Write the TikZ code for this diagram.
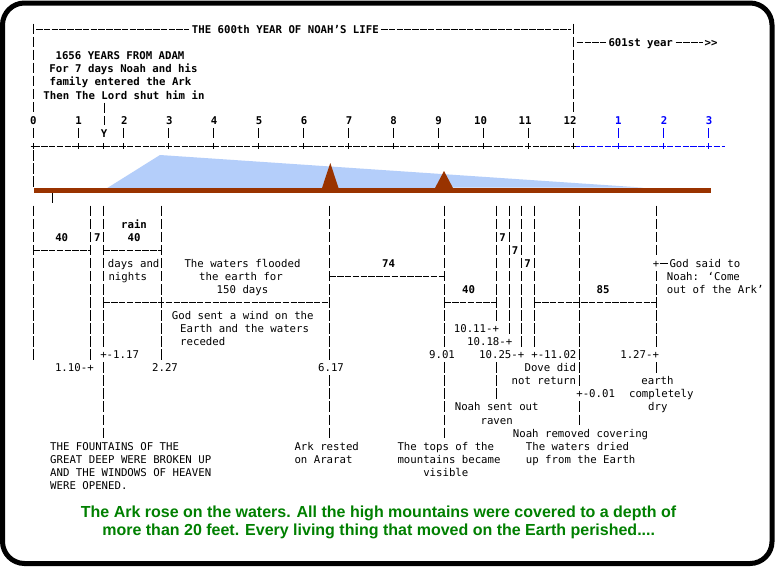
\documentclass[tikz,border=0pt]{standalone}
\usepackage{fontspec}
\newfontfamily\monof{DejaVu Sans Mono}
\newfontfamily\capf{Liberation Sans}
\definecolor{earthbrown}{HTML}{993300}
\definecolor{waterblue}{RGB}{180,206,250}
\definecolor{capgreen}{HTML}{008000}
\definecolor{numblue}{HTML}{0000FF}
\tikzset{
  txt/.style={font=\monof\fontsize{10.7}{13}\selectfont, inner sep=0pt, anchor=base},
  txtb/.style={txt, font=\monof\bfseries\fontsize{10.7}{13}\selectfont},
  vdash/.style={line width=1pt, dash pattern=on 10.5pt off 2.55pt},
  hdash/.style={line width=1pt, dash pattern=on 6.5pt off 1.3pt},
  solidln/.style={line width=1pt},
  captxt/.style={font=\capf\bfseries\fontsize{16}{19}\selectfont, text=capgreen, inner sep=0pt, anchor=base},
}
\newcommand\VS[3]{\draw[vdash] (#1,{205.7+13.05*(#2)}) -- (#1,{216.7+13.05*(#3)});}
\newcommand\HS[3]{\draw[hdash] (#1,{211.2+13.05*(#3)}) -- (#2,{211.2+13.05*(#3)});}
\begin{document}
\begin{tikzpicture}[x=1pt,y=-1pt]
\useasboundingbox (0,0) rectangle (775,568);
\fill[white] (0,0) rectangle (775,568);
% border
\draw[line width=5pt, rounded corners=22pt] (2.5,3) rectangle (772,563.5);

% ---- top ----
\draw[hdash] (36,29.3) -- (189,29.3);
\node[txtb, anchor=base west] (title) at (191.7,33.3) {THE 600th YEAR OF NOAH’S LIFE};
\draw[hdash] (381,29.3) -- (571,29.3);
\draw[vdash] (33.3,23.5) -- (33.3,113);
\draw[vdash] (573.3,23.5) -- (573.3,113);

\draw[hdash] (576.7,42.7) -- (606,42.7);
\node[txtb, anchor=base west] (y601) at (608.3,46.7) {601st year};
\draw[hdash] (675.5,42.7) -- (703,42.7);
\node[txtb, anchor=base west] (arr) at (704.5,46.7) {>>};

\node[txtb] (l1) at (120,59.3) {1656 YEARS FROM ADAM};
\node[txtb] (l2) at (123.5,72.6) {For 7 days Noah and his};
\node[txtb] (l3) at (120.5,85.9) {family entered the Ark};
\node[txtb] (l4) at (124,99.2) {Then The Lord shut him in};

\draw[vdash] (104,102.7) -- (104,125);
\node[txtb] (ylab) at (104,137.3) {Y};

\foreach \xx/\lab [count=\i] in {33.3/0,78.7/1,124.3/2,169.3/3,214/4,259/5,304/6,349/7,393.7/8,438.7/9,480.5/10,525/11,570/12}
  \node[txtb] (num\i) at (\xx,124.3) {\lab};
\foreach \xx/\lab [count=\i] in {618.3/1,664/2,709/3}
  \node[txtb, text=numblue] (bnum\i) at (\xx,124.3) {\lab};

\foreach \k in {0,...,12}
  \draw[solidln] ({33.3+45*\k},128) -- ({33.3+45*\k},138);
\foreach \k in {13,14,15}
  \draw[solidln, numblue] ({33.3+45*\k},128) -- ({33.3+45*\k},138);

% axis
\draw[hdash] (33.3,146) -- (573.3,146);
\draw[hdash, numblue] (573.3,146) -- (725,146);
\foreach \xx in {33.3,78.3,103.5,123.3,168.3,213.3,258.3,303.3,348.3,393.3,438.3,483.3,528.3,573.3}
  \draw[solidln] (\xx-2.6,146) -- (\xx+2.6,146) (\xx,143.4) -- (\xx,148.6);
\foreach \xx in {618.3,663.3,708.3}
  \draw[solidln, numblue] (\xx-2.6,146) -- (\xx+2.6,146) (\xx,143.4) -- (\xx,148.6);

\draw[vdash] (33.3,150) -- (33.3,187);

% water, ground, mountains
\fill[waterblue] (107.3,188) -- (160,155) -- (643,187.6) -- cycle;
\fill[earthbrown] (34,187.5) rectangle (710.7,192.7);
\fill[earthbrown] (322,188) -- (330.3,163) -- (338.5,188) -- cycle;
\fill[earthbrown] (435,188) -- (444,171) -- (453,188) -- cycle;

\draw[solidln] (52.3,193) -- (52.3,202.5);

% ---- lower chart: verticals ----
\VS{33.3}{0}{11}
\VS{90.7}{0}{11}
\VS{103.3}{0}{10}
\VS{103.3}{12}{17}
\VS{161.7}{0}{11}
\VS{329.3}{0}{11}
\VS{329.3}{13}{17}
\VS{444.3}{0}{10}
\VS{444.3}{12}{17}
\VS{496}{0}{8}
\VS{496}{12}{14}
\VS{509.3}{0}{9}
\VS{521.3}{0}{10}
\VS{534.3}{0}{10}
\VS{579.3}{0}{13}
\VS{579.3}{15}{16}
\VS{656}{0}{3}
\VS{656}{5}{10}
\VS{656}{12}{12}

% horizontals
\HS{33.3}{90.7}{3}
\HS{103.3}{161.7}{3}
\HS{329.3}{444.3}{5}
\HS{103.3}{329.3}{7}
\HS{444.3}{496}{7}
\HS{534.3}{656}{7}

% ---- lower chart: texts ----
\node[txtb] (d40a) at (61.7,{215.2+13.05*2}) {40};
\node[txtb] (d7a) at (97.3,{215.2+13.05*2}) {7};
\node[txtb] (rain) at (134,{215.2+13.05*1}) {rain};
\node[txtb] (d40b) at (134,{215.2+13.05*2}) {40};
\node[txt, anchor=base west] (days) at (107.7,{215.2+13.05*4}) {days and};
\node[txt, anchor=base west] (nights) at (108.3,{215.2+13.05*5}) {nights};
\node[txt] (fl1) at (242.5,{215.2+13.05*4}) {The waters flooded};
\node[txt] (fl2) at (241,{215.2+13.05*5}) {the earth for};
\node[txt] (fl3) at (242.5,{215.2+13.05*6}) {150 days};
\node[txtb] (d74) at (388.5,{215.2+13.05*4}) {74};
\node[txt, anchor=base west] (w1) at (171.7,{215.2+13.05*8}) {God sent a wind on the};
\node[txt, anchor=base west] (w2) at (180,{215.2+13.05*9}) {Earth and the waters};
\node[txt, anchor=base west] (w3) at (180,{215.2+13.05*10}) {receded};
\node[txt, anchor=base west] (t117) at (100.1,{215.2+13.05*11}) {+-1.17};
\node[txt, anchor=base east] (t110) at (93.9,{215.2+13.05*12}) {1.10-+};
\node[txt] (t227) at (165,{215.2+13.05*12}) {2.27};
\node[txt] (t617) at (331,{215.2+13.05*12}) {6.17};

\node[txtb] (d7b) at (502.7,{215.2+13.05*2}) {7};
\node[txtb] (d7c) at (515,{215.2+13.05*3}) {7};
\node[txtb] (d7d) at (527.7,{215.2+13.05*4}) {7};
\node[txt] (gplus) at (656,{215.2+13.05*4}) {+};
\draw[solidln] (659.5,{211.2+13.05*4}) -- (667.5,{211.2+13.05*4});
\node[txt, anchor=base west] (g1) at (669.3,{215.2+13.05*4}) {God said to};
\node[txt, anchor=base west] (g2) at (666.7,{215.2+13.05*5}) {Noah: ‘Come};
\node[txt, anchor=base west] (g3) at (666.7,{215.2+13.05*6}) {out of the Ark’};
\node[txtb] (d40c) at (468.5,{215.2+13.05*6}) {40};
\node[txtb] (d85) at (603,{215.2+13.05*6}) {85};
\node[txt, anchor=base east] (t1011) at (499.2,{215.2+13.05*9}) {10.11-+};
\node[txt, anchor=base east] (t1018) at (512.5,{215.2+13.05*10}) {10.18-+};
\node[txt] (t901) at (442,{215.2+13.05*11}) {9.01};
\node[txt, anchor=base east] (t1025) at (524.5,{215.2+13.05*11}) {10.25-+};
\node[txt, anchor=base west] (t1102) at (531.1,{215.2+13.05*11}) {+-11.02};
\node[txt, anchor=base east] (t127) at (659.2,{215.2+13.05*11}) {1.27-+};
\node[txt, anchor=base east] (dove1) at (576.3,{215.2+13.05*12}) {Dove did};
\node[txt, anchor=base east] (dove2) at (576.3,{215.2+13.05*13}) {not return};
\node[txt, anchor=base west] (t001) at (576.1,{215.2+13.05*14}) {+-0.01};
\node[txt] (e1) at (657.5,{215.2+13.05*13}) {earth};
\node[txt] (e2) at (661.3,{215.2+13.05*14}) {completely};
\node[txt] (e3) at (657.8,{215.2+13.05*15}) {dry};
\node[txt] (r1) at (496.7,{215.2+13.05*15}) {Noah sent out};
\node[txt] (r2) at (496.7,{215.2+13.05*16}) {raven};
\node[txt] (cov) at (580.5,{215.2+13.05*17}) {Noah removed covering};
\node[txt, anchor=base west] (dr1) at (525.7,{215.2+13.05*18}) {The waters dried};
\node[txt, anchor=base west] (dr2) at (525.7,{215.2+13.05*19}) {up from the Earth};
\node[txt, anchor=base west] (tp1) at (397.3,{215.2+13.05*18}) {The tops of the};
\node[txt, anchor=base west] (tp2) at (397.3,{215.2+13.05*19}) {mountains became};
\node[txt] (tp3) at (445.8,{215.2+13.05*20}) {visible};
\node[txt, anchor=base west] (f1) at (50,{215.2+13.05*18}) {THE FOUNTAINS OF THE};
\node[txt, anchor=base west] (f2) at (50,{215.2+13.05*19}) {GREAT DEEP WERE BROKEN UP};
\node[txt, anchor=base west] (f3) at (50,{215.2+13.05*20}) {AND THE WINDOWS OF HEAVEN};
\node[txt, anchor=base west] (f4) at (50,{215.2+13.05*21}) {WERE OPENED.};
\node[txt, anchor=base west] (ar1) at (294.3,{215.2+13.05*18}) {Ark rested};
\node[txt, anchor=base west] (ar2) at (294.3,{215.2+13.05*19}) {on Ararat};

% caption
\node[captxt] (cap1) at (378.6,517.5) {The Ark rose on the waters. All the high mountains were covered to a depth of};
\node[captxt] (cap2) at (378.7,535.5) {more than 20 feet. Every living thing that moved on the Earth perished....};
\end{tikzpicture}
\end{document}
